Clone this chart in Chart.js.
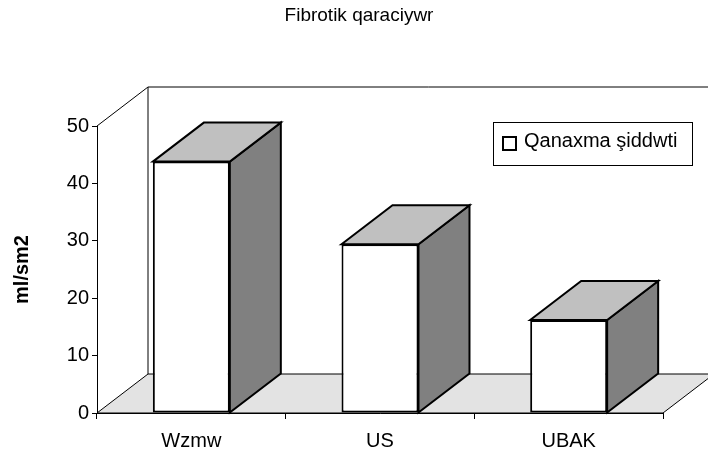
<!DOCTYPE html>
<html>
<head>
<meta charset="utf-8">
<script src="https://cdn.jsdelivr.net/npm/chart.js@4.4.0/dist/chart.umd.min.js"></script>
<style>
    html, body { margin: 0; padding: 0; background: #fff; }
</style>
</head>
<body>
<canvas id="chartFibrotik" width="708" height="457"></canvas>
<script>
const kategori = ['Wzmw', 'US', 'UBAK'];
const nilaiQanaxma = [43.8, 29.4, 16.2];
const labelSeri = 'Qanaxma şiddwti';
const tickY = [0, 10, 20, 30, 40, 50];
const judul = 'Fibrotik qaraciywr';
const judulY = 'ml/sm2';

// geser kedalaman 3D (dinding belakang & sisi batang)
const DX = 51, DY = -39;

const efek3D = {
    id: 'efek3D',
    beforeDatasetsDraw(chart) {
        const ctx = chart.ctx;
        const a = chart.chartArea;
        ctx.save();
        ctx.lineWidth = 1;
        ctx.strokeStyle = '#000';
        // lantai
        ctx.beginPath();
        ctx.moveTo(a.left, a.bottom);
        ctx.lineTo(a.right, a.bottom);
        ctx.lineTo(a.right + DX, a.bottom + DY);
        ctx.lineTo(a.left + DX, a.bottom + DY);
        ctx.closePath();
        ctx.fillStyle = '#e3e3e3';
        ctx.fill();
        ctx.stroke();
        // dinding belakang
        ctx.beginPath();
        ctx.moveTo(a.left, a.top);
        ctx.lineTo(a.left + DX, a.top + DY);
        ctx.lineTo(a.right + DX, a.top + DY);
        ctx.moveTo(a.left + DX, a.top + DY);
        ctx.lineTo(a.left + DX, a.bottom + DY);
        ctx.stroke();
        ctx.restore();
    },
    afterDatasetsDraw(chart) {
        const ctx = chart.ctx;
        const meta = chart.getDatasetMeta(0);
        ctx.save();
        ctx.lineWidth = 2;
        ctx.strokeStyle = '#000';
        meta.data.forEach(function (bar) {
            const p = bar.getProps(['x', 'y', 'base', 'width']);
            const l = p.x - p.width / 2, r = p.x + p.width / 2, t = p.y, b = p.base;
            // sisi kanan
            ctx.beginPath();
            ctx.moveTo(r, t);
            ctx.lineTo(r + DX, t + DY);
            ctx.lineTo(r + DX, b + DY);
            ctx.lineTo(r, b);
            ctx.closePath();
            ctx.fillStyle = '#808080';
            ctx.fill();
            ctx.stroke();
            // atas
            ctx.beginPath();
            ctx.moveTo(l, t);
            ctx.lineTo(l + DX, t + DY);
            ctx.lineTo(r + DX, t + DY);
            ctx.lineTo(r, t);
            ctx.closePath();
            ctx.fillStyle = '#c0c0c0';
            ctx.fill();
            ctx.stroke();
        });
        ctx.restore();
    }
};

// legenda berbingkai
const legendaKotak = {
    id: 'legendaKotak',
    afterDraw(chart) {
        const ctx = chart.ctx;
        const a = chart.chartArea;
        const ds = chart.data.datasets[0];
        const x0 = a.right - 170, y0 = a.top - 4, w = 199, h = 43;
        ctx.save();
        ctx.fillStyle = '#fff';
        ctx.fillRect(x0, y0, w, h);
        ctx.lineWidth = 1;
        ctx.strokeStyle = '#000';
        ctx.strokeRect(x0 + 0.5, y0 + 0.5, w, h);
        ctx.lineWidth = 2;
        ctx.strokeRect(x0 + 10, y0 + 15, 13, 13);
        ctx.font = '20px "Liberation Sans", Arial, sans-serif';
        ctx.fillStyle = '#000';
        ctx.textBaseline = 'middle';
        ctx.fillText(ds.label, x0 + 31, y0 + 19);
        ctx.restore();
    }
};

Chart.defaults.font.family = '"Liberation Sans", Arial, sans-serif';
Chart.defaults.color = '#000';

new Chart(document.getElementById('chartFibrotik').getContext('2d'), {
    type: 'bar',
    data: {
        labels: kategori,
        datasets: [{
            label: labelSeri,
            data: nilaiQanaxma,
            backgroundColor: '#ffffff',
            borderColor: '#000000',
            borderWidth: 2,
            borderSkipped: false,
            barPercentage: 0.408,
            categoryPercentage: 1,
            yAxisID: 'y'
        }]
    },
    options: {
        responsive: false,
        animation: false,
        layout: { padding: { left: 10, right: 0, top: 0, bottom: 0 } },
        plugins: {
            legend: { display: false },
            tooltip: { enabled: false },
            title: {
                display: true,
                text: judul,
                color: '#000',
                font: { size: 19, weight: 'normal' },
                padding: { top: 4, bottom: 99.2 }
            }
        },
        scales: {
            x: {
                grid: { drawOnChartArea: false, offset: true, tickLength: 6, color: '#000' },
                border: { color: '#000' },
                ticks: { padding: 10, color: '#000', font: { size: 20 } },
                afterFit: function (s) { s.height = 44; }
            },
            y: {
                min: 0,
                max: 50,
                grid: { drawOnChartArea: false, tickLength: 5, color: '#000' },
                border: { color: '#000' },
                ticks: { padding: 3, color: '#000', font: { size: 20 } },
                afterBuildTicks: function (s) { s.ticks = tickY.map(function (v) { return { value: v }; }); },
                title: {
                    display: true,
                    text: judulY,
                    color: '#000',
                    font: { size: 20, weight: 'bold' },
                    padding: { top: 0, bottom: 0 }
                },
                afterFit: function (s) { s.width = 87; }
            },
            // sumbu kosong di kanan, hanya untuk ruang kedalaman 3D
            ruangKanan: {
                position: 'right',
                min: 0,
                max: 50,
                grid: { display: false },
                border: { display: false },
                ticks: { display: false },
                afterFit: function (s) { s.width = 45; }
            }
        }
    },
    plugins: [efek3D, legendaKotak]
});
</script>
</body>
</html>
